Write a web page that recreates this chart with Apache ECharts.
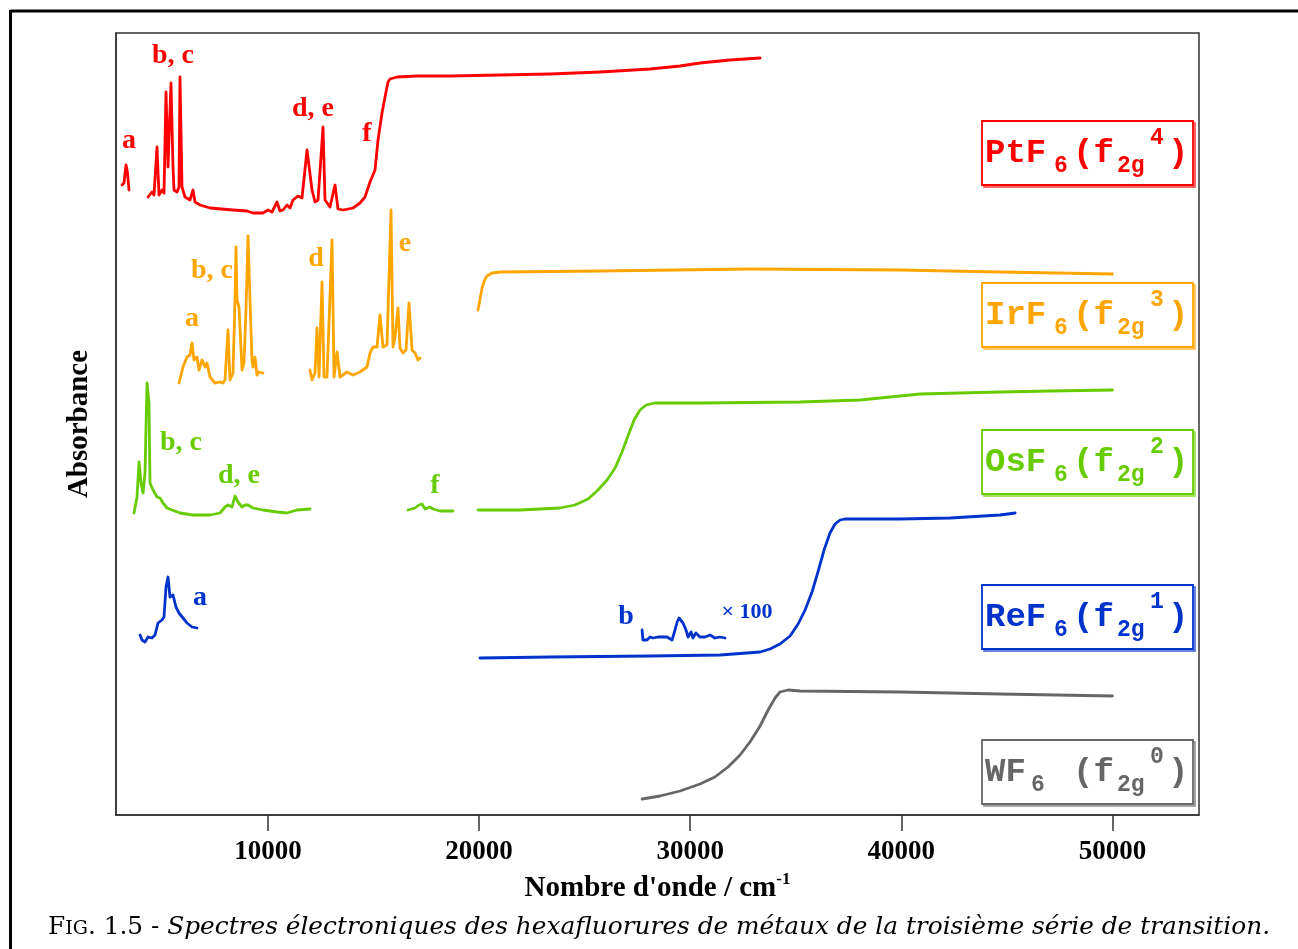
<!DOCTYPE html>
<html>
<head>
<meta charset="utf-8">
<script src="https://cdn.jsdelivr.net/npm/echarts@6/dist/echarts.min.js"></script>
<style>
html,body{margin:0;padding:0;background:#fff;}
#chart{width:1298px;height:949px;}
</style>
</head>
<body>
<div id="chart"></div>
<script>
// ---------------- DATA (x: wavenumber cm-1, y: absorbance, arbitrary offset units) ----------------
const xTicks = [10000, 20000, 30000, 40000, 50000];

// PtF6 (f2g^4)
const ptA = [[3084,630],[3179,632],[3274,650],[3340,643],[3416,625]];
const ptB = [[4316,618],[4505,623],[4600,620],[4742,668],[4837,620],[4979,625],[5074,622],[5169,723],[5263,648],
  [5405,732],[5500,648],[5547,625],[5690,623],[5784,628],[5832,738],[5926,628],[6069,618],[6305,615],[6447,625],
  [6542,613],[6779,610],[7253,607],[8342,605],[9005,604],[9290,602],[9763,602],[10000,605],[10190,603],[10427,613],
  [10569,604],[10711,605],[10900,610],[11042,607],[11184,615],[11421,619],[11611,617],[11848,665],[12085,625],
  [12227,613],[12370,615],[12606,688],[12701,615],[12937,608],[13174,630],[13316,606],[13553,605],[14027,607],
  [14358,612],[14595,618],[14832,633],[15069,645],[15211,675],[15400,702],[15543,718],[15685,733],[15779,736],
  [16111,738],[17058,739],[18622,739],[20990,740],[23360,741],[25730,743],[28100,746],[29520,749],[30460,752],
  [31890,755],[33310,757]];

// IrF6 (f2g^3)
const irA = [[5784,432],[5974,448],[6163,458],[6305,460],[6400,472],[6495,455],[6637,458],[6732,445],[6874,455],
  [7016,448],[7111,452],[7253,438],[7490,432],[7726,433],[7868,432],[7963,435],[8105,485],[8200,435],[8342,442],
  [8437,515],[8484,568],[8532,515],[8626,508],[8769,445],[8863,452],[8958,505],[9053,579],[9148,515],[9242,455],
  [9290,448],[9384,458],[9479,440],[9574,443],[9763,442]];
const irB = [[11990,445],[12085,435],[12227,442],[12322,487],[12417,438],[12559,533],[12653,438],[12795,438],
  [13032,575],[13127,438],[13269,463],[13411,438],[13742,443],[14027,440],[14358,443],[14690,448],[14832,462],
  [14974,468],[15164,468],[15306,500],[15448,468],[15637,470],[15827,605],[15921,468],[16016,478],[16158,507],
  [16253,467],[16395,462],[16537,465],[16679,512],[16821,465],[16964,462],[17106,455],[17200,457]];
const irC = [[19950,505],[20050,517],[20140,527],[20260,535],[20374,539],[20611,542],[20990,543],[25730,544],
  [32830,546],[39940,545],[44680,543],[50000,541]];

// OsF6 (f2g^2)
const osA = [[3653,302],[3795,318],[3890,353],[3984,332],[4079,322],[4174,342],[4268,432],[4363,412],[4411,332],
  [4553,325],[4742,318],[4884,317],[5026,312],[5216,307],[5453,305],[5832,302],[6447,300],[7253,300],[7726,302],
  [7963,308],[8105,310],[8295,308],[8437,319],[8579,313],[8769,308],[8911,310],[9053,310],[9290,307],[9763,305],
  [10427,303],[10900,302],[11374,305],[11990,306]];
const osB = [[16632,305],[16964,307],[17153,310],[17295,311],[17437,306],[17674,308],[17816,306],[18148,304],[18764,304]];
const osC = [[19950,305],[21940,305],[23830,307],[24540,310],[25160,316],[25630,325],[26060,335],[26440,347],
  [26770,363],[27050,379],[27340,395],[27620,405],[27910,410],[28330,412],[30460,412],[35200,413],[38040,415],
  [38990,417],[39940,419],[40890,421],[42780,422],[44680,423],[47040,424],[50000,425]];

// ReF6 (f2g^1)
const reA = [[3937,180],[4032,175],[4174,173],[4316,178],[4505,177],[4647,180],[4790,192],[4979,195],[5074,198],
  [5169,228],[5263,238],[5358,218],[5500,220],[5642,208],[5784,202],[5974,197],[6163,192],[6400,188],[6637,187]];
const reB = [[27720,185],[27760,175],[27950,175],[28100,178],[28240,177],[28470,178],[28660,178],[28900,178],
  [29140,175],[29280,185],[29380,193],[29470,197],[29660,192],[29800,185],[29900,178],[30040,183],[30130,177],
  [30270,182],[30460,178],[30700,178],[30940,180],[31170,177],[31410,178],[31650,177]];
const reC = [[20040,157],[23360,158],[28100,159],[31410,160],[33310,163],[33780,166],[34250,171],[34730,179],
  [35110,191],[35440,205],[35770,223],[36050,243],[36340,265],[36620,282],[36860,291],[37100,295],[37330,296],
  [39940,296],[42310,297],[44680,300],[45390,302]];

// WF6 (f2g^0)
const wfA = [[27720,16],[28570,19],[29520,24],[30460,31],[31170,38],[31790,48],[32360,60],[32830,73],[33310,89],
  [33690,105],[34020,117],[34250,123],[34630,125],[35200,124],[39940,123],[44680,121],[50000,119]];

// compounds: name parts for legend boxes
const compounds = [
  {key:'PtF6', metal:'PtF', occ:'4', segs:[ptA, ptB]},
  {key:'IrF6', metal:'IrF', occ:'3', segs:[irA, irB, irC]},
  {key:'OsF6', metal:'OsF', occ:'2', segs:[osA, osB, osC]},
  {key:'ReF6', metal:'ReF', occ:'1', segs:[reA, reB, reC]},
  {key:'WF6',  metal:'WF',  occ:'0', segs:[wfA]}
];
const bandLabels = {
  PtF6: ['a','b, c','d, e','f'],
  IrF6: ['a','b, c','d','e'],
  OsF6: ['b, c','d, e','f'],
  ReF6: ['a','b']
};

// ---------------- STYLE / LAYOUT ----------------
const colors = {PtF6:'#ff0000', IrF6:'#ffa500', OsF6:'#66cc00', ReF6:'#0033cc', WF6:'#666666'};
const serif = '"Liberation Serif","Times New Roman",serif';
const mono = '"Liberation Mono","Courier New",monospace';
// label anchor (x, baseline) in px
const bandPos = {
  PtF6: [[129,150],[173,65],[313,118],[367,143]],
  IrF6: [[192,328],[212,280],[316,268],[405,253]],
  OsF6: [[181,452],[239,485],[435,495]],
  ReF6: [[200,607],[626,626]]
};
const boxTops = {PtF6:121, IrF6:283, OsF6:430, ReF6:585, WF6:740};

const chart = echarts.init(document.getElementById('chart'));

const series = [];
compounds.forEach(c => {
  c.segs.forEach(seg => {
    series.push({
      name: c.key, type: 'line', data: seg, showSymbol: false, symbol: 'none', smooth: false,
      lineStyle: {color: colors[c.key], width: 2.8, join:'round', cap:'round'}, itemStyle:{color: colors[c.key]},
      animation: false, z: 3
    });
  });
});

const graphics = [];
// outer figure frame
graphics.push({type:'line', shape:{x1:10.5, y1:11, x2:1298, y2:11}, style:{stroke:'#000', lineWidth:3}});
graphics.push({type:'line', shape:{x1:10.5, y1:10, x2:10.5, y2:949}, style:{stroke:'#000', lineWidth:3}});

function txt(text, x, y, color, font, align) {
  return {type:'text', x:x, y:y, z:10,
    style:{text:text, fill:color, font:font, align:align||'center', verticalAlign:'middle',
           textAlign:align||'center', textVerticalAlign:'middle'}};
}
// band labels
Object.keys(bandLabels).forEach(k => {
  bandLabels[k].forEach((t, i) => {
    const p = bandPos[k][i];
    graphics.push(txt(t, p[0], p[1] - 9.5, colors[k], 'bold 28px ' + serif));
  });
});
graphics.push(txt('\u00d7 100', 747, 620 - 7.5, colors.ReF6, 'bold 22px ' + serif));

// compound boxes
compounds.forEach(c => {
  const col = colors[c.key];
  const L = 982, T = boxTops[c.key], W = 211, H = 64;
  graphics.push({type:'rect', shape:{x:L+2, y:T+2, width:W, height:H}, z:8,
    style:{fill:'none', stroke:col, lineWidth:1.5, opacity:0.8}});
  graphics.push({type:'rect', shape:{x:L, y:T, width:W, height:H}, z:9,
    style:{fill:'#fff', stroke:col, lineWidth:1.8}});
  const big = 'bold 34px ' + mono, small = 'bold 23px ' + mono;
  graphics.push(txt(c.metal, L+3, T+32, col, big, 'left'));
  graphics.push(txt('6', L + (c.metal.length === 2 ? 49 : 72), T+45, col, small, 'left'));
  graphics.push(txt('(f', L+91, T+32, col, big, 'left'));
  graphics.push(txt('2g', L+135, T+45, col, small, 'left'));
  graphics.push(txt(c.occ, L+168, T+17.5, col, small, 'left'));
  graphics.push(txt(')', L+186, T+32, col, big, 'left'));
});

// caption
const capSerif = '"DejaVu Serif",serif';
graphics.push({type:'text', x:48, y:927, z:10, style:{
  text:'{r|F}{sc|IG}{r|. 1.5 - }{i|Spectres \u00e9lectroniques des hexafluorures de m\u00e9taux de la troisi\u00e8me s\u00e9rie de transition.}',
  verticalAlign:'middle', textVerticalAlign:'middle', align:'left', textAlign:'left',
  rich:{
    r:{fontFamily:capSerif, fontSize:24.8, fill:'#000', color:'#000', lineHeight:26, verticalAlign:'bottom'},
    sc:{fontFamily:capSerif, fontSize:19, fill:'#000', color:'#000', lineHeight:26, verticalAlign:'bottom', padding:[0,0,1,0]},
    i:{fontFamily:capSerif, fontStyle:'italic', fontSize:24.8, fill:'#000', color:'#000', lineHeight:26, verticalAlign:'bottom'}
  }
}});

chart.setOption({
  backgroundColor:'#fff',
  animation:false,
  grid:{left:116, right:99, top:33, bottom:134, show:true, borderColor:'#333', borderWidth:1.5, backgroundColor:'transparent'},
  xAxis:{
    type:'value', min:2800, max:54100,
    name:"{a|Nombre d'onde / cm}{s|-1}", nameLocation:'middle', nameGap:54,
    nameTextStyle:{rich:{
      a:{fontFamily:serif, fontWeight:'bold', fontSize:29, color:'#000', lineHeight:32, verticalAlign:'bottom'},
      s:{fontFamily:serif, fontWeight:'bold', fontSize:17, color:'#000', lineHeight:32, verticalAlign:'top'}
    }},
    axisLine:{show:true, lineStyle:{color:'#333', width:1.5}},
    axisTick:{show:true, inside:false, length:16, lineStyle:{color:'#333', width:1.5}, customValues:xTicks},
    axisLabel:{show:true, margin:24, fontFamily:serif, fontWeight:'bold', fontSize:27, color:'#000',
      customValues:xTicks, formatter:function(v){ return String(v); }},
    splitLine:{show:false}
  },
  yAxis:{
    type:'value', min:0, max:782,
    name:'Absorbance', nameLocation:'middle', nameGap:22,
    nameTextStyle:{fontFamily:serif, fontWeight:'bold', fontSize:29, color:'#000'},
    axisLine:{show:true, lineStyle:{color:'#333', width:1.5}},
    axisTick:{show:false}, axisLabel:{show:false}, splitLine:{show:false}
  },
  series: series,
  graphic: graphics
});
</script>
</body>
</html>
